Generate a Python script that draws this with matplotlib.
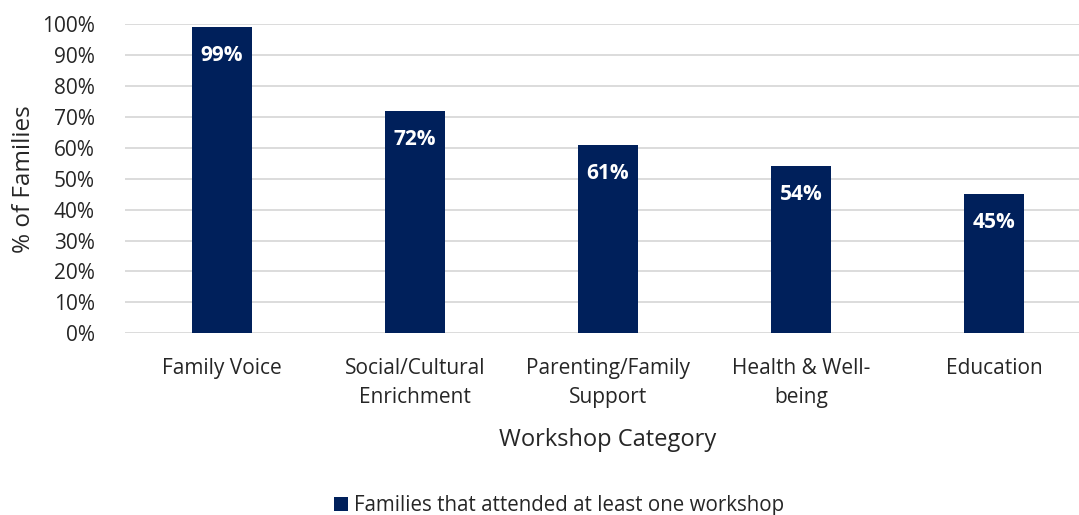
import matplotlib.pyplot as plt
from matplotlib.ticker import PercentFormatter

plt.rcParams['font.family'] = ['Open Sans', 'DejaVu Sans']

# workshop categories and share of families attending
categories = ['Family Voice', 'Social/Cultural\nEnrichment', 'Parenting/Family\nSupport',
              'Health & Well-\nbeing', 'Education']
attended = [99, 72, 61, 54, 45]
series_name = 'Families that attended at least one workshop'

navy = '#00205B'
grid_gray = '#D9D9D9'
text_col = '#262626'

fig = plt.figure(figsize=(10.79, 5.15), dpi=100)
ax = fig.add_axes([0.116, 0.353, 0.895, 0.600])

x = range(len(categories))
bars = ax.bar(x, attended, width=0.31, color=navy, label=series_name, zorder=3)

for b, v in zip(bars, attended):
    ax.annotate(f'{v}%', (b.get_x() + b.get_width() / 2, v), xytext=(0, -13),
                textcoords='offset points', ha='center', va='top',
                color='white', fontsize=15, fontweight='bold', zorder=4)

ax.set_ylim(0, 100)
ax.set_yticks(range(0, 101, 10))
ax.yaxis.set_major_formatter(PercentFormatter(decimals=0))
ax.set_xlim(-0.5, len(categories) - 0.5)
ax.set_xticks(list(x))
ax.set_xticklabels(categories, linespacing=1.5)

ax.grid(axis='y', color=grid_gray, linewidth=1.3, zorder=0)
ax.tick_params(axis='both', length=0, labelsize=15, colors=text_col)
ax.tick_params(axis='x', pad=18)
ax.tick_params(axis='y', pad=22)
for s in ax.spines.values():
    s.set_visible(False)

ax.set_ylabel('% of Families', fontsize=17.5, color=text_col, labelpad=4)
ax.set_xlabel('Workshop Category', fontsize=17, color=text_col, labelpad=14)

fig.legend(handles=[bars], labels=[series_name], loc='center',
           bbox_to_anchor=(0.518, 0.018), frameon=False, fontsize=14.8,
           handlelength=0.7, handleheight=0.7, handletextpad=0.3,
           labelcolor=text_col)

fig.savefig('out.png', dpi=100)
